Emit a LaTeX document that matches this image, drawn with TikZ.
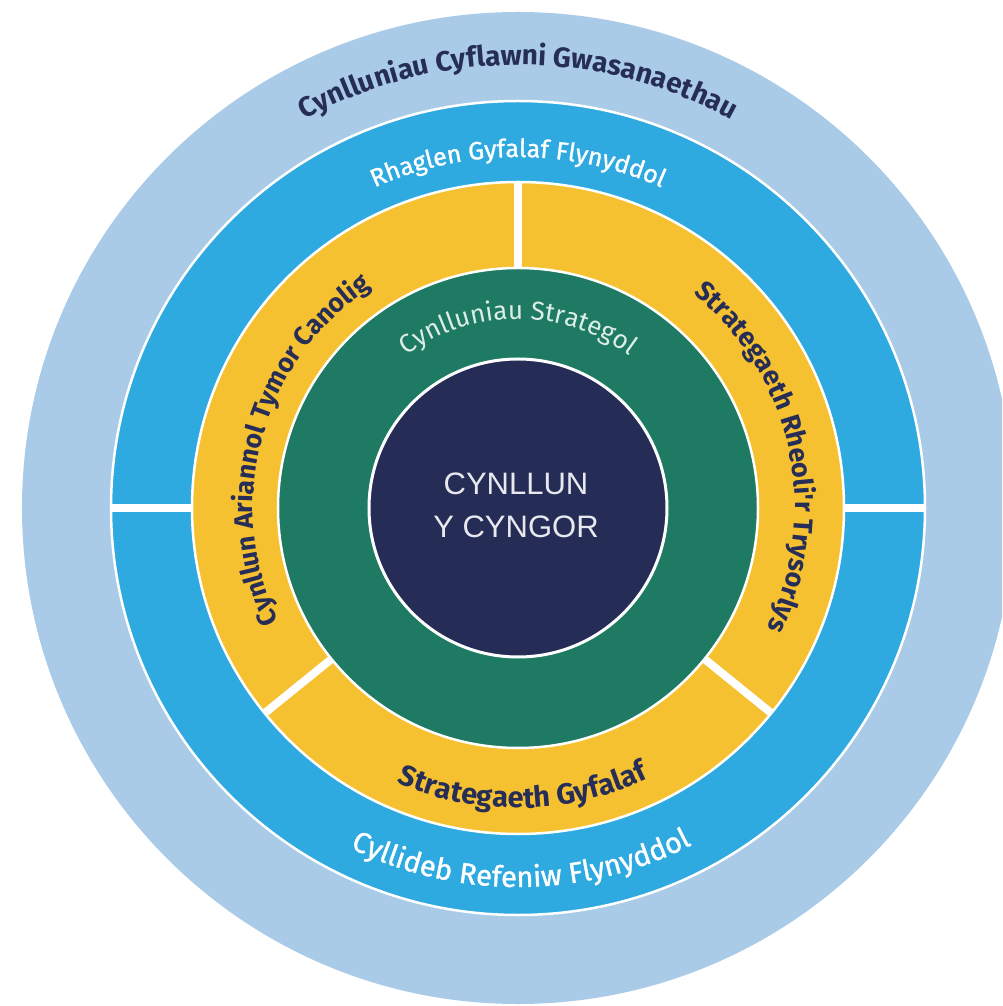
\documentclass[tikz,border=0pt]{standalone}
\usepackage{fontspec}
\setmainfont{Liberation Sans}
\newfontfamily\ringfont{Fira Sans}
\newfontfamily\ringmedium{Fira Sans}[FakeBold=1.2]
\usetikzlibrary{decorations.text}

\definecolor{paleblue}{HTML}{A9CBE8}
\definecolor{midblue}{HTML}{2EAAE1}
\definecolor{gold}{HTML}{F6C131}
\definecolor{ringgreen}{HTML}{1E7A62}
\definecolor{navy}{HTML}{252D57}
\definecolor{ink}{HTML}{262D56}
\definecolor{mint}{HTML}{DDEEE6}
\definecolor{corewhite}{HTML}{E8E9EF}

\newcommand{\boldlabel}[1]{\color{ink}\ringfont\bfseries\fontsize{#1}{#1}\selectfont}
\newcommand{\whitelabel}[1]{\color{white}\ringmedium\fontsize{#1}{#1}\selectfont}
\newcommand{\lightlabel}[1]{\color{mint}\ringfont\fontsize{#1}{#1}\selectfont}

\tikzset{
  ringline/.style={draw=white, line width=2.5},
  divider/.style={draw=white, line width=8},
  arctext/.style={decorate, decoration={text along path, text align=center, text={#1}}}
}

\begin{document}
\begin{tikzpicture}[x=1pt, y=1pt]
    \useasboundingbox (-518,-498) rectangle (484,508);
    \clip (-518,-498) rectangle (484,508);

    \fill[paleblue] (0,0) circle (496);
    \filldraw[ringline, fill=midblue] (0,0) circle (407);
    \filldraw[ringline, fill=gold] (0,0) circle (326);
    \filldraw[ringline, fill=ringgreen] (0,0) circle (240);
    \filldraw[ringline, fill=navy, line width=3] (0,0) circle (149);

    \foreach \a in {0,180}
        \draw[divider] (\a:327) -- (\a:406);
    \foreach \a in {90,219,-39}
        \draw[divider] (\a:241) -- (\a:325);

    \path[arctext={|\boldlabel{28}|Cynlluniau Cyflawni Gwasanaethau}] (180:443) arc (180:0:443);
    \path[arctext={|\whitelabel{25}|Rhaglen Gyfalaf Flynyddol}] (180:351) arc (180:0:351);
    \path[arctext={|\whitelabel{29}|Cyllideb Refeniw Flynyddol}] (180.5:379) arc (180.5:360.5:379);
    \path[arctext={|\boldlabel{26.5}|Cynllun Ariannol Tymor Canolig}] (254.5:265) arc (254.5:74.5:265);
    \path[arctext={|\boldlabel{27}|Strategaeth Rheoli'r Trysorlys}] (102.5:277) arc (102.5:-77.5:277);
    \path[arctext={|\boldlabel{29}|Strategaeth Gyfalaf}] (181:300) arc (181:361:300);
    \path[arctext={|\lightlabel{26}|Cynlluniau Strategol}] (180:189) arc (180:0:189);

    \node[font=\fontsize{31}{43}\selectfont, text=corewhite, align=center] (core) at (-2,3) {CYNLLUN\\Y CYNGOR};
\end{tikzpicture}
\end{document}
